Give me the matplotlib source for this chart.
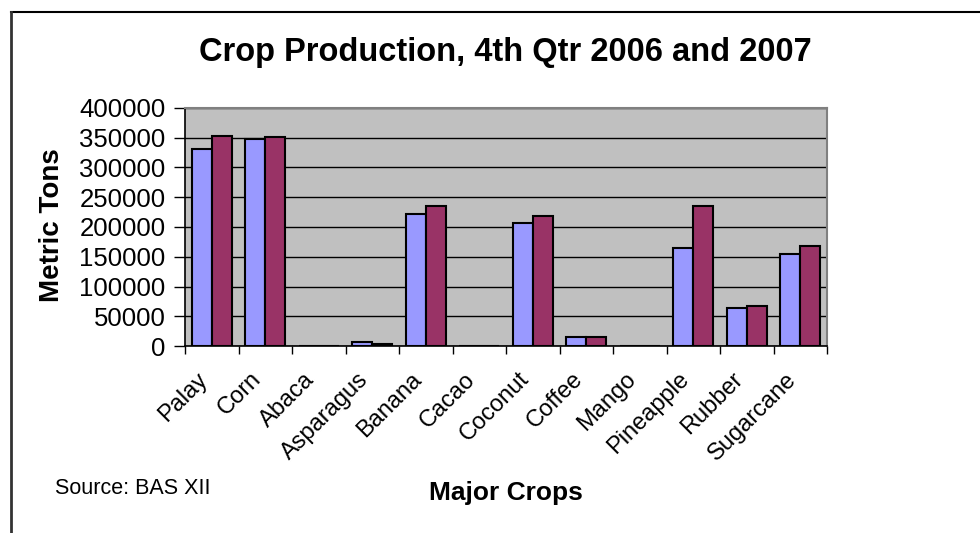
import numpy as np
import matplotlib.pyplot as plt
from matplotlib.lines import Line2D
from matplotlib.transforms import ScaledTranslation

plt.rcParams['font.family'] = ['Liberation Sans', 'DejaVu Sans']

# -----------------------------------------------------------------------------
# Datos
# -----------------------------------------------------------------------------
crops = ["Palay", "Corn", "Abaca", "Asparagus", "Banana", "Cacao",
         "Coconut", "Coffee", "Mango", "Pineapple", "Rubber", "Sugarcane"]
prod_2006 = [331600, 348500, 0, 7000, 222000, 0, 206000, 14300, 0, 164700, 63300, 154000]
prod_2007 = [353000, 352000, 0, 3800, 236000, 0, 219000, 14300, 0, 234800, 67800, 167500]
yticks = np.arange(0, 400001, 50000)

W, H = 980, 533
fig = plt.figure(figsize=(W/100, H/100), dpi=100)
ax = fig.add_axes([185/W, 1 - 346/H, (827-185)/W, (346-108)/H])

x = np.arange(len(crops))
bw = 0.375
ax.set_facecolor("#C0C0C0")
ax.bar(x - bw/2, prod_2006, bw, color="#9999FF", edgecolor="black", linewidth=1.5, zorder=3)
ax.bar(x + bw/2, prod_2007, bw, color="#993366", edgecolor="black", linewidth=1.5, zorder=3)

ax.set_xlim(-0.5, len(crops) - 0.5)
ax.set_ylim(0, 400000)
ax.set_yticks(yticks)
ax.set_yticklabels([str(v) for v in yticks], fontsize=18.5)
ax.yaxis.grid(True, color="black", linewidth=1.0, zorder=1)
ax.set_axisbelow(True)

# etiquetas en el centro, marcas en los limites de categoria
ax.set_xticks(x)
ax.set_xticklabels(crops, rotation=45, ha="right", rotation_mode="anchor", fontsize=17)
ax.tick_params(axis="x", which="major", length=0, pad=16)
ax.set_xticks(np.arange(-0.5, len(crops), 1.0), minor=True)
ax.tick_params(axis="x", which="minor", length=6, width=1, direction="out")
ax.tick_params(axis="y", length=8, width=1, direction="out", pad=6)
shift = ScaledTranslation(-15/100, 0, fig.dpi_scale_trans)
for lab in ax.get_xticklabels():
    lab.set_transform(lab.get_transform() + shift)

for s in ["top", "right"]:
    ax.spines[s].set_color("#808080")
    ax.spines[s].set_linewidth(1.5)
for s in ["left", "bottom"]:
    ax.spines[s].set_color("black")
    ax.spines[s].set_linewidth(1.2)

fig.text(505/W, 1 - 53/H, "Crop Production, 4th Qtr 2006 and 2007", ha="center", va="center",
         fontsize=23.5, fontweight="bold")
fig.text(52/W, 1 - 225/H, "Metric Tons", ha="center", va="center", rotation=90,
         fontsize=20, fontweight="bold")
fig.text(506/W, 1 - 493/H, "Major Crops", ha="center", va="center", fontsize=19, fontweight="bold")
fig.text(55/W, 1 - 488/H, "Source: BAS XII", ha="left", va="center", fontsize=15.5)

# marco exterior del grafico
fig.add_artist(Line2D([11/W, 1.0], [1 - 12/H, 1 - 12/H], color="black", linewidth=1.5))
fig.add_artist(Line2D([11/W, 11/W], [0.0, 1 - 12/H], color="#333333", linewidth=2.0))

fig.savefig("out.png", dpi=100)
